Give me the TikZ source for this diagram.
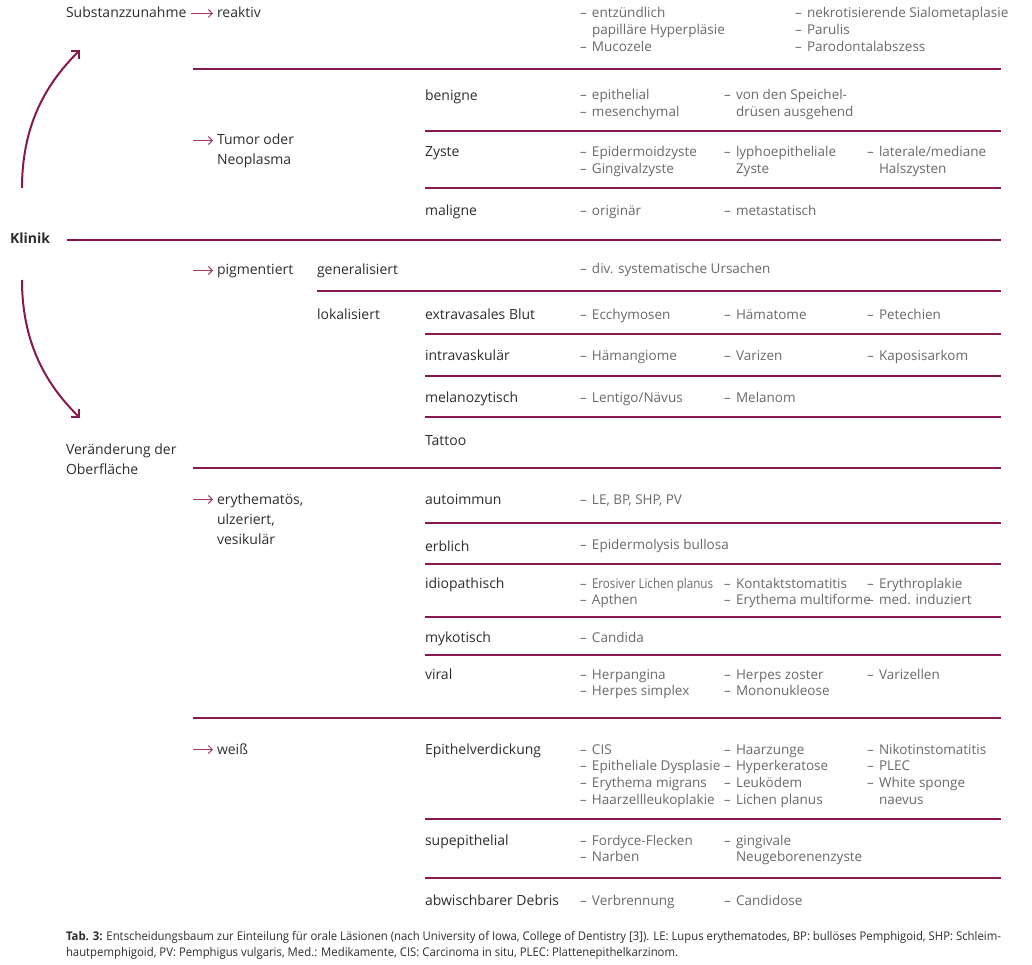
\documentclass[tikz,border=0pt]{standalone}
\usepackage{fontspec}
\setmainfont{Open Sans}
\newfontfamily\capfont[FakeStretch=0.945]{Open Sans}
\newfontfamily\condfont[FakeStretch=0.86]{Open Sans}
\usetikzlibrary{arrows.meta,calc}
\definecolor{mag}{RGB}{135,25,80}
\definecolor{arr}{RGB}{165,55,105}
\definecolor{catc}{RGB}{45,45,45}
\definecolor{itmc}{RGB}{105,105,105}
\newcommand{\dsh}{\makebox[12pt][l]{–}}
\newcommand{\ind}{\hspace*{12pt}}
\newcommand{\ml}[1]{\begin{tabular}[t]{@{}l@{}}#1\end{tabular}}
\tikzset{
  every node/.style={inner sep=0pt, outer sep=0pt, anchor=base west},
  catn/.style={font=\fontsize{14}{20}\selectfont, text=catc},
  itmn/.style={font=\fontsize{13.5}{16.7}\selectfont, text=itmc},
  rulel/.style={draw=mag, line width=1.1pt},
  thickrule/.style={draw=mag, line width=2pt},
  smallarrow/.style={draw=arr, line width=0.9pt, -{Straight Barb[length=4pt,width=8pt]}},
  curvearrow/.style={draw=mag, line width=2pt, -{Straight Barb[length=6pt,width=12pt]}},
  capn/.style={font=\capfont\fontsize{12}{16}\selectfont, text=catc}
}
\begin{document}
\begin{tikzpicture}[x=1pt,y=-1pt]
\useasboundingbox (0,0) rectangle (1032,965);

% ---- level 0/1 nodes
\node[catn, font=\bfseries\fontsize{14}{20}\selectfont] (klinik) at (10,244) {Klinik};
\node[catn] (subst) at (66,18) {Substanzzunahme};
\node[catn] (veraend) at (66,454) {\ml{Veränderung der\\Oberfläche}};

% ---- level 2
\node[catn] (reaktiv) at (217,18) {reaktiv};
\node[catn] (tumor) at (217,145) {\ml{Tumor oder\\Neoplasma}};
\node[catn] (pigm) at (217,275) {pigmentiert};
\node[catn] (eryth) at (217,504) {\ml{erythematös,\\ulzeriert,\\vesikulär}};
\node[catn] (weiss) at (217,754) {weiß};

% ---- level 3
\node[catn] (general) at (317,275) {generalisiert};
\node[catn] (lokal) at (317,319) {lokalisiert};

\node[catn] (benigne) at (425,101) {benigne};
\node[catn] (zyste) at (425,157) {Zyste};
\node[catn] (maligne) at (425,216) {maligne};
\node[catn] (extra) at (425,319) {extravasales Blut};
\node[catn] (intra) at (425,360) {intravaskulär};
\node[catn] (melano) at (425,402) {melanozytisch};
\node[catn] (tattoo) at (425,445) {Tattoo};
\node[catn] (autoimm) at (425,504) {autoimmun};
\node[catn] (erblich) at (425,551) {erblich};
\node[catn] (idio) at (425,588) {idiopathisch};
\node[catn] (myko) at (425,642) {mykotisch};
\node[catn] (viral) at (425,679) {viral};
\node[catn] (epith) at (425,754) {Epithelverdickung};
\node[catn] (supep) at (425,845) {supepithelial};
\node[catn] (debris) at (425,905) {abwischbarer Debris};

% ---- items
\node[itmn] (r1) at (580,18) {\ml{\dsh entzündlich\\\ind papilläre Hyperpläsie\\\dsh Mucozele}};
\node[itmn] (r2) at (795,18) {\ml{\dsh nekrotisierende Sialometaplasie\\\dsh Parulis\\\dsh Parodontalabszess}};

\node[itmn] (b1) at (580,100) {\ml{\dsh epithelial\\\dsh mesenchymal}};
\node[itmn] (b2) at (724,100) {\ml{\dsh von den Speichel-\\\ind drüsen ausgehend}};

\node[itmn] (z1) at (580,157) {\ml{\dsh Epidermoidzyste\\\dsh Gingivalzyste}};
\node[itmn] (z2) at (724,157) {\ml{\dsh lyphoepitheliale\\\ind Zyste}};
\node[itmn] (z3) at (867,157) {\ml{\dsh laterale/mediane\\\ind Halszysten}};

\node[itmn] (m1) at (580,216) {\dsh originär};
\node[itmn] (m2) at (724,216) {\dsh metastatisch};

\node[itmn] (g1) at (580,273) {\dsh div. systematische Ursachen};

\node[itmn] (e1) at (580,319) {\dsh Ecchymosen};
\node[itmn] (e2) at (724,319) {\dsh Hämatome};
\node[itmn] (e3) at (867,319) {\dsh Petechien};

\node[itmn] (i1) at (580,360) {\dsh Hämangiome};
\node[itmn] (i2) at (724,360) {\dsh Varizen};
\node[itmn] (i3) at (867,360) {\dsh Kaposisarkom};

\node[itmn] (l1) at (580,402) {\dsh Lentigo/Nävus};
\node[itmn] (l2) at (724,402) {\dsh Melanom};

\node[itmn] (a1) at (580,504) {\dsh LE, BP, SHP, PV};
\node[itmn] (eb1) at (580,549) {\dsh Epidermolysis bullosa};

\node[itmn] (id1) at (580,588) {\ml{\dsh {\condfont Erosiver Lichen planus}\\\dsh Apthen}};
\node[itmn] (id2) at (724,588) {\ml{\dsh Kontaktstomatitis\\\dsh Erythema multiforme}};
\node[itmn] (id3) at (867,588) {\ml{\dsh Erythroplakie\\\dsh med. induziert}};

\node[itmn] (my1) at (580,642) {\dsh Candida};

\node[itmn] (v1) at (580,679) {\ml{\dsh Herpangina\\\dsh Herpes simplex}};
\node[itmn] (v2) at (724,679) {\ml{\dsh Herpes zoster\\\dsh Mononukleose}};
\node[itmn] (v3) at (867,679) {\dsh Varizellen};

\node[itmn] (ep1) at (580,754) {\ml{\dsh CIS\\\dsh Epitheliale Dysplasie\\\dsh Erythema migrans\\\dsh Haarzellleukoplakie}};
\node[itmn] (ep2) at (724,754) {\ml{\dsh Haarzunge\\\dsh Hyperkeratose\\\dsh Leuködem\\\dsh Lichen planus}};
\node[itmn] (ep3) at (867,754) {\ml{\dsh Nikotinstomatitis\\\dsh PLEC\\\dsh White sponge\\\ind naevus}};

\node[itmn] (s1) at (580,845) {\ml{\dsh Fordyce-Flecken\\\dsh Narben}};
\node[itmn] (s2) at (724,845) {\ml{\dsh gingivale\\\ind Neugeborenenzyste}};

\node[itmn] (d1) at (580,905) {\dsh Verbrennung};
\node[itmn] (d2) at (724,905) {\dsh Candidose};

% ---- rules
\draw[rulel] (193,69) -- (1001,69);
\draw[rulel] (425,131) -- (1001,131);
\draw[rulel] (425,188) -- (1001,188);
\draw[thickrule] (67,240) -- (1001,240);
\draw[rulel] (317,291) -- (1001,291);
\draw[rulel] (425,334) -- (1001,334);
\draw[rulel] (425,376) -- (1001,376);
\draw[rulel] (425,417) -- (1001,417);
\draw[rulel] (193,468) -- (1001,468);
\draw[rulel] (425,523) -- (1001,523);
\draw[rulel] (425,564) -- (1001,564);
\draw[rulel] (425,617) -- (1001,617);
\draw[rulel] (425,655) -- (1001,655);
\draw[rulel] (193,718) -- (1001,718);
\draw[rulel] (425,819) -- (1001,819);
\draw[rulel] (425,878) -- (1001,878);

% ---- small arrows
\draw[smallarrow] ([xshift=5pt,yshift=4.5pt]subst.base east) -- ([xshift=-4pt,yshift=4.5pt]reaktiv.base west);
\coordinate (ta) at ([xshift=-24pt,yshift=4.5pt]tumor.base west);
\draw[smallarrow] (ta) -- ([xshift=-4pt,yshift=4.5pt]tumor.base west);
\coordinate (pa) at ([xshift=-24pt,yshift=4.5pt]pigm.base west);
\draw[smallarrow] (pa) -- ([xshift=-4pt,yshift=4.5pt]pigm.base west);
\coordinate (ea) at ([xshift=-24pt,yshift=4.5pt]eryth.base west);
\draw[smallarrow] (ea) -- ([xshift=-4pt,yshift=4.5pt]eryth.base west);
\coordinate (wa) at ([xshift=-24pt,yshift=4.5pt]weiss.base west);
\draw[smallarrow] (wa) -- ([xshift=-4pt,yshift=4.5pt]weiss.base west);

% ---- curved arrows
\draw[curvearrow] ($(klinik.base west)+(12,-56)$) .. controls ($(klinik.base west)+(12,-126)$) and ($(klinik.base west)+(42,-166)$) .. ($(subst.base west)+(14,32)$);
\draw[curvearrow] ($(klinik.base west)+(12,36)$) .. controls ($(klinik.base west)+(12,106)$) and ($(klinik.base west)+(42,146)$) .. ($(veraend.base west)+(14,-36)$);

% ---- caption
\node[capn] (cap) at (66,940) {\ml{{\bfseries Tab. 3:} Entscheidungsbaum zur Einteilung für orale Läsionen (nach University of Iowa, College of Dentistry [3]). LE: Lupus erythematodes, BP: bullöses Pemphigoid, SHP: Schleim-\\hautpemphigoid, PV: Pemphigus vulgaris, Med.: Medikamente, CIS: Carcinoma in situ, PLEC: Plattenepithelkarzinom.}};
\end{tikzpicture}
\end{document}
